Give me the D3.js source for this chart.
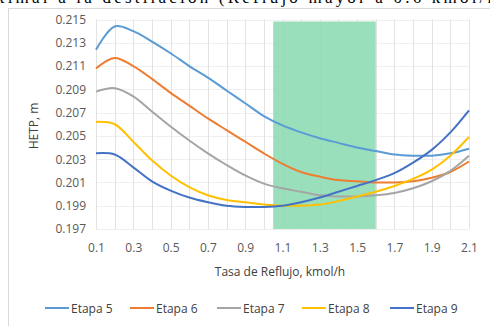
<!DOCTYPE html>
<html><head><meta charset="utf-8">
<script src="https://cdn.jsdelivr.net/npm/d3@7"></script>
<style>body{margin:0;background:#fff;overflow:hidden}svg{display:block}</style>
</head><body><svg id="c" width="490" height="326"></svg>
<script>
const xValues = [0.1,0.2,0.3,0.4,0.5,0.6,0.7,0.8,0.9,1.0,1.1,1.2,1.3,1.4,1.5,1.6,1.7,1.8,1.9,2.0,2.1];
const etapa5 = [0.2124,0.2144,0.2140,0.2131,0.2121,0.2110,0.2100,0.2089,0.2078,0.2067,0.2059,0.2053,0.2048,0.2044,0.2040,0.2037,0.2034,0.2033,0.2033,0.2035,0.2039];
const etapa6 = [0.2108,0.2117,0.2110,0.2099,0.2087,0.2076,0.2065,0.2055,0.2045,0.2035,0.2026,0.2019,0.2015,0.2012,0.2011,0.2010,0.2010,0.2011,0.2014,0.2019,0.2028];
const etapa7 = [0.2088,0.2091,0.2084,0.2071,0.2058,0.2046,0.2035,0.2025,0.2016,0.2009,0.2005,0.2002,0.1999,0.1998,0.1998,0.1999,0.2001,0.2005,0.2011,0.2020,0.2033];
const etapa8 = [0.2062,0.2060,0.2045,0.2029,0.2016,0.2006,0.1999,0.1995,0.1993,0.1991,0.1990,0.1990,0.1991,0.1994,0.1998,0.2002,0.2007,0.2013,0.2021,0.2033,0.2049];
const etapa9 = [0.2035,0.2034,0.2023,0.2011,0.2003,0.1997,0.1993,0.1990,0.1989,0.1989,0.1990,0.1993,0.1997,0.2002,0.2007,0.2012,0.2018,0.2027,0.2038,0.2053,0.2072];
const seriesNames = ["Etapa 5","Etapa 6","Etapa 7","Etapa 8","Etapa 9"];
const seriesColors = ["#5B9BD5","#ED7D31","#A5A5A5","#FFC000","#4472C4"];
const xTickLabels = [0.1,0.3,0.5,0.7,0.9,1.1,1.3,1.5,1.7,1.9,2.1];
const yTickLabels = [0.197,0.199,0.201,0.203,0.205,0.207,0.209,0.211,0.213,0.215];
const bandRange = [1.05, 1.6];

const allSeries = [etapa5,etapa6,etapa7,etapa8,etapa9];
const svg = d3.select("#c");
const font = "'Open Sans', sans-serif";

// clipped page text above chart
svg.append("text").attr("x",-4).attr("y",3).attr("font-family","'Liberation Serif', serif")
  .attr("font-size",17).attr("fill","#000").attr("textLength",500)
  .text("ximal a la destilación (Reflujo mayor a 0.6 kmol/h");

// chart frame
svg.append("rect").attr("x",8.5).attr("y",8.5).attr("width",490).attr("height",330)
  .attr("fill","#fff").attr("stroke","#d9d9d9");

const x = d3.scaleLinear().domain([0.1,2.1]).range([96,469]);
const y = d3.scaleLinear().domain([0.197,0.215]).range([229,19.5]);

// horizontal gridlines
svg.append("g").selectAll("line").data(yTickLabels).join("line")
  .attr("x1",x(0.1)).attr("x2",x(2.1)).attr("y1",d=>Math.round(y(d))+0.5).attr("y2",d=>Math.round(y(d))+0.5)
  .attr("stroke","#efefef");
// vertical gridlines
svg.append("g").selectAll("line").data(xValues).join("line")
  .attr("x1",d=>Math.round(x(d))+0.5).attr("x2",d=>Math.round(x(d))+0.5).attr("y1",y(0.215)).attr("y2",y(0.197))
  .attr("stroke","#e2e2e2");

// green band
svg.append("rect").attr("x",x(bandRange[0])).attr("width",x(bandRange[1])-x(bandRange[0]))
  .attr("y",y(0.215)+2).attr("height",y(0.197)-y(0.215)-2).attr("fill","#8fdcb5").attr("opacity",0.9);

// axes
const xAxis = d3.axisBottom(x).tickValues(xTickLabels).tickFormat(d3.format(".1f")).tickSize(0).tickPadding(14);
const gx = svg.append("g").attr("transform",`translate(0,${y(0.197)})`).call(xAxis);
gx.select(".domain").remove();
gx.selectAll("text").attr("font-family",font).attr("font-size",12).attr("fill","#595959");

const yAxis = d3.axisLeft(y).tickValues(yTickLabels).tickFormat(d3.format(".3f")).tickSize(0).tickPadding(10);
const gy = svg.append("g").attr("transform",`translate(${x(0.1)},0)`).call(yAxis);
gy.select(".domain").remove();
gy.selectAll("text").attr("font-family",font).attr("font-size",12).attr("fill","#595959");

// lines
const line = d3.line().x((d,i)=>x(xValues[i])).y(d=>y(d)).curve(d3.curveCatmullRom.alpha(0.5));
svg.append("g").selectAll("path").data(allSeries).join("path")
  .attr("d",line).attr("fill","none").attr("stroke",(d,i)=>seriesColors[i]).attr("stroke-width",2);

// axis titles
svg.append("text").attr("x",280).attr("y",276).attr("text-anchor","middle").attr("font-family",font)
  .attr("font-size",12).attr("fill","#404040").text("Tasa de Reflujo, kmol/h");
svg.append("text").attr("transform","translate(38,126) rotate(-90)").attr("text-anchor","middle")
  .attr("font-family",font).attr("font-size",12).attr("fill","#404040").text("HETP, m");

// legend
const legX = [45,130,217,302,390];
const leg = svg.append("g").selectAll("g").data(seriesNames).join("g")
  .attr("transform",(d,i)=>`translate(${legX[i]},308)`);
leg.append("line").attr("x1",0).attr("x2",24).attr("y1",0).attr("y2",0)
  .attr("stroke",(d,i)=>seriesColors[i]).attr("stroke-width",2);
leg.append("text").attr("x",26).attr("y",4.5).attr("font-family",font).attr("font-size",12)
  .attr("fill","#404040").text(d=>d);
</script></body></html>
